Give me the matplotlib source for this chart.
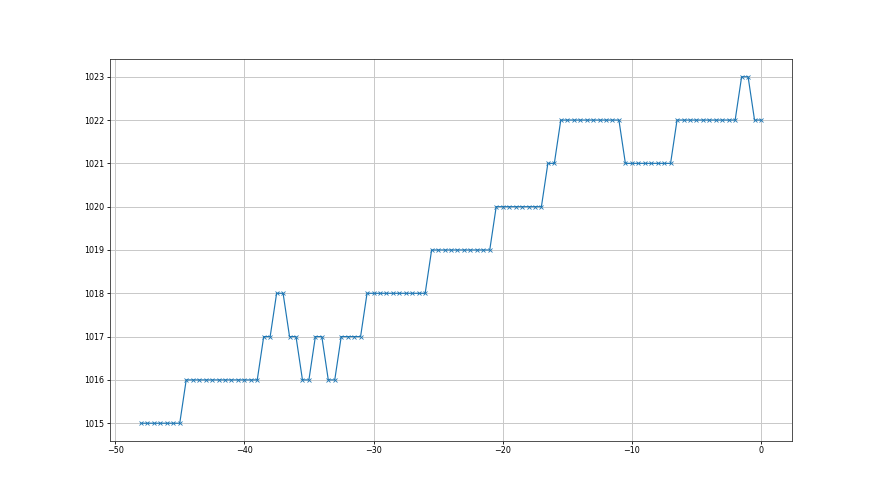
import numpy as np
import matplotlib
matplotlib.use("Agg")
import matplotlib.pyplot as plt

# === Data ===
# sample times (hours before now), one sample every half hour
hours = np.arange(-48, 0.5, 0.5)
# pressure readings (hPa)
pressure = [
    1015, 1015, 1015, 1015, 1015, 1015, 1015,
    1016, 1016, 1016, 1016, 1016, 1016, 1016, 1016, 1016, 1016, 1016, 1016,
    1017, 1017, 1018, 1018, 1017, 1017, 1016, 1016, 1017, 1017, 1016, 1016,
    1017, 1017, 1017, 1017,
    1018, 1018, 1018, 1018, 1018, 1018, 1018, 1018, 1018, 1018,
    1019, 1019, 1019, 1019, 1019, 1019, 1019, 1019, 1019, 1019,
    1020, 1020, 1020, 1020, 1020, 1020, 1020, 1020,
    1021, 1021,
    1022, 1022, 1022, 1022, 1022, 1022, 1022, 1022, 1022, 1022,
    1021, 1021, 1021, 1021, 1021, 1021, 1021, 1021,
    1022, 1022, 1022, 1022, 1022, 1022, 1022, 1022, 1022, 1022,
    1023, 1023,
    1022, 1022,
]

# === Plot ===
fig, ax = plt.subplots(figsize=(8.8, 4.95), dpi=100)
ax.plot(hours, pressure, marker='x', color='#1f77b4', linewidth=0.85,
        markersize=3.4, markeredgewidth=0.6)
ax.grid(True, color='#c8c8c8', linewidth=0.7)
ax.tick_params(labelsize=5.8, length=2.2, width=0.6, pad=2)
for spine in ax.spines.values():
    spine.set_linewidth(0.6)
    spine.set_color('#333333')

fig.savefig("out.png", dpi=100)
